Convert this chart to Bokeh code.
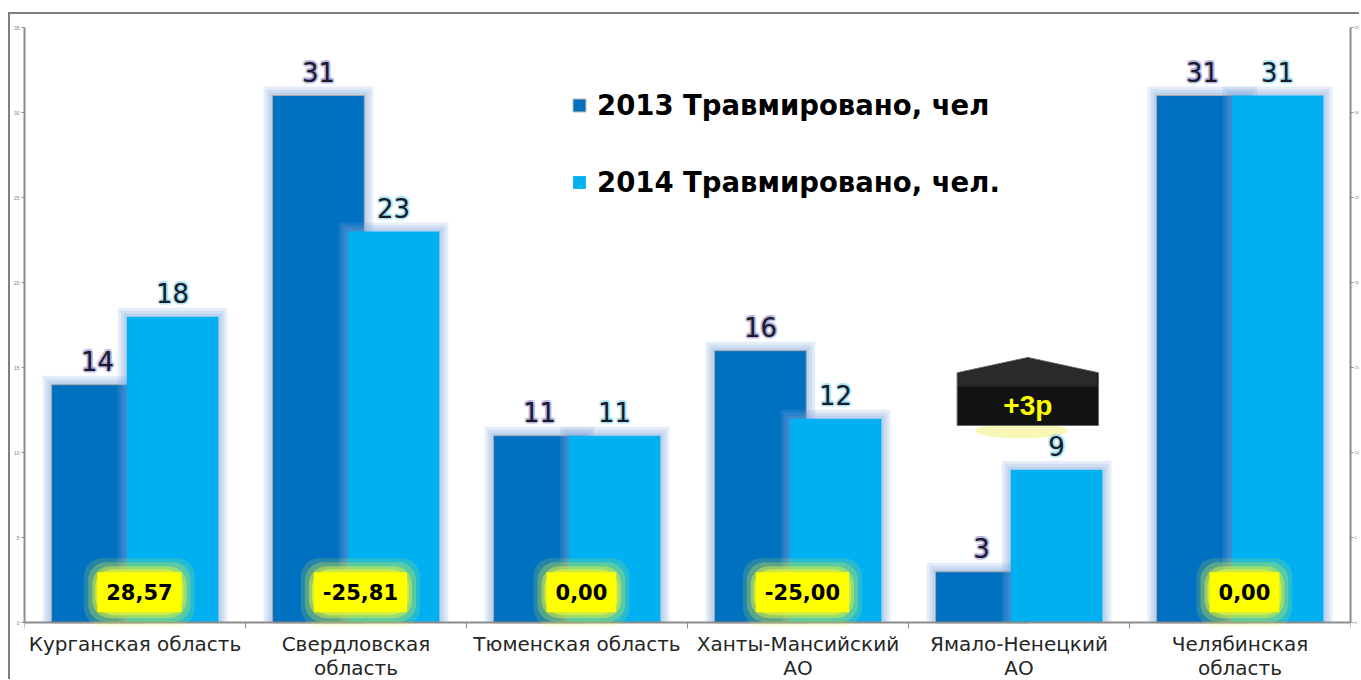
from bokeh.plotting import figure
from bokeh.models import (ColumnDataSource, Range1d, FixedTicker, LinearAxis,
                          LabelSet, Label, Legend, LegendItem)
from bokeh.core.properties import value
from bokeh.transform import dodge
from bokeh.embed import file_html
from bokeh.resources import INLINE

# ---------------- data ----------------
regions = ["Курганская область", "Свердловская\nобласть", "Тюменская область",
           "Ханты-Мансийский\nАО", "Ямало-Ненецкий\nАО", "Челябинская\nобласть"]
injured_2013 = [14, 31, 11, 16, 3, 31]
injured_2014 = [18, 23, 11, 12, 9, 31]
change_pct = [28.57, -25.81, 0.00, -25.00, None, 0.00]
yamal_note = "+3р"
series_names = ["2013 Травмировано, чел", "2014 Травмировано, чел."]
y_ticks = [0, 5, 10, 15, 20, 25, 30, 35]

C13 = "#0070C0"
C14 = "#00B0F0"
FONT = "DejaVu Sans"

xs = [i + 0.5 for i in range(len(regions))]
src = ColumnDataSource(dict(
    x=xs, v13=injured_2013, v14=injured_2014,
    t13=[str(v) for v in injured_2013], t14=[str(v) for v in injured_2014],
))
lines = [r.split("\n") + [""] for r in regions]
cat_src = ColumnDataSource(dict(x=xs, y=[0] * len(xs),
                                l1=[l[0] for l in lines], l2=[l[1] for l in lines]))

Y_LOW = -3.45
p = figure(width=1351, height=667, output_backend="svg", toolbar_location=None,
           x_range=Range1d(0, len(regions)), y_range=Range1d(Y_LOW, 35),
           min_border_left=14, min_border_top=13, min_border_right=4, min_border_bottom=0)
p.margin = (12, 0, 0, 8)
p.styles = {"border-top": "2px solid #7f7f7f", "border-left": "2px solid #7f7f7f"}
p.outline_line_color = None
p.xgrid.visible = False
p.ygrid.visible = False
p.background_fill_color = "white"

BW = 0.415
OFF = 0.17
PX_X = 1.0 / 221.7
PX_Y = 1.0 / 17.0

# soft glow layers behind bars
def glow(col, off):
    for px in [9, 6, 3]:
        srcg = ColumnDataSource(dict(x=xs, top=[v + px * PX_Y for v in src.data[col]]))
        p.vbar(x=dodge("x", off, range=p.x_range), top="top", bottom=0,
               width=BW + 2 * px * PX_X, source=srcg,
               fill_color="#7fa3dc", fill_alpha=0.2, line_color=None)

glow("v13", -OFF)
r13 = p.vbar(x=dodge("x", -OFF, range=p.x_range), top="v13", bottom=0, width=BW,
             source=src, fill_color=C13, line_color="#a6a6a6", line_width=1)
glow("v14", OFF)
r14 = p.vbar(x=dodge("x", OFF, range=p.x_range), top="v14", bottom=0, width=BW,
             source=src, fill_color=C14, line_color=None)

# value labels with halo
def value_labels(col, tcol, off, halo):
    for dx, dy in [(-2, 0), (2, 0), (0, -2), (0, 2), (-1.5, -1.5), (1.5, 1.5), (-1.5, 1.5), (1.5, -1.5)]:
        p.add_layout(LabelSet(x=dodge("x", off, range=p.x_range), y=col, text=tcol, source=src,
                              x_offset=dx, y_offset=14 + dy, text_align="center",
                              text_baseline="bottom", text_font=value(FONT), text_font_size="26px",
                              text_color=halo, text_alpha=0.4))
    p.add_layout(LabelSet(x=dodge("x", off, range=p.x_range), y=col, text=tcol, source=src,
                          y_offset=14, text_align="center", text_baseline="bottom",
                          text_font=value(FONT), text_font_size="26px", text_color="#1a1a28"))

value_labels("v13", "t13", -OFF, "#9d98d6")
value_labels("v14", "t14", OFF, "#8fdcef")

# percent-change boxes with yellow-green glow
for x, v in zip(xs, change_pct):
    if v is None:
        continue
    txt = f"{v:.2f}".replace(".", ",")
    for pad, a in [(22, 0.18), (18, 0.3), (14, 0.5), (11, 0.8)]:
        p.add_layout(Label(x=x + 0.02, y=1.8, text=txt, text_align="center", text_baseline="middle",
                           text_font=FONT, text_font_size="21px", text_font_style="bold",
                           text_color="#d4f040", text_alpha=a,
                           background_fill_color="#d4f040", background_fill_alpha=a,
                           padding=dict(left=pad, right=pad, top=pad + 4, bottom=pad + 4),
                           border_radius=18))
    p.add_layout(Label(x=x + 0.02, y=1.8, text=txt, text_align="center", text_baseline="middle",
                       text_font=FONT, text_font_size="21px", text_font_style="bold",
                       text_color="black", background_fill_color="#FFFF00",
                       padding=dict(left=9, right=9, top=12, bottom=12)))

# "+3р" house-shaped callout above Yamal
cx = xs[4] + 0.04
hw = 0.32
p.ellipse(x=[cx - 0.03], y=[11.3], width=0.42, height=0.9, fill_color="#f2f27a",
          fill_alpha=0.55, line_color=None)
p.patch(x=[cx - hw, cx - hw, cx, cx + hw, cx + hw],
        y=[11.6, 14.7, 15.6, 14.7, 11.6], fill_color="#121212", line_color="#6a6a6a", line_width=1)
p.patch(x=[cx - hw + 0.005, cx, cx + hw - 0.005, cx + hw - 0.005, cx - hw + 0.005],
        y=[14.68, 15.55, 14.68, 13.9, 13.9], fill_color="#3a3a3a", fill_alpha=0.6, line_color=None)
p.add_layout(Label(x=cx, y=12.75, text=yamal_note, text_align="center", text_baseline="middle",
                   text_font="Liberation Sans", text_font_size="28px", text_font_style="bold",
                   text_color="#FFFF00"))

# axes
def style_y(ax, size):
    ax.ticker = FixedTicker(ticks=y_ticks)
    ax.bounds = (0, 35)
    ax.major_label_text_font_size = size
    ax.major_label_text_color = "#7f7f7f"
    ax.axis_line_color = "#8c8c8c"
    ax.axis_line_width = 2
    ax.major_tick_line_color = "#8c8c8c"
    ax.major_tick_out = 3
    ax.major_tick_in = 0
    ax.minor_tick_line_color = None
    ax.major_label_standoff = 2

style_y(p.yaxis[0], "5px")
ry = LinearAxis()
style_y(ry, "4px")
ry.major_label_standoff = 1
p.add_layout(ry, "right")

xa = p.xaxis[0]
xa.ticker = FixedTicker(ticks=[], minor_ticks=list(range(len(regions) + 1)))
xa.fixed_location = 0
xa.major_tick_line_color = None
xa.major_tick_out = 0
xa.major_label_standoff = 0
xa.minor_tick_line_color = "#8c8c8c"
xa.minor_tick_out = 6
xa.minor_tick_in = 0
xa.axis_line_color = "#8c8c8c"
xa.axis_line_width = 2

# category labels under the axis (each line centred)
for col, off in [("l1", -9), ("l2", -33)]:
    p.add_layout(LabelSet(x="x", y="y", text=col, source=cat_src, y_offset=off,
                          text_align="center", text_baseline="top", text_font=value(FONT),
                          text_font_size="20px", text_color="#262626"))

legend = Legend(items=[LegendItem(label=series_names[0], renderers=[r13]),
                       LegendItem(label=series_names[1], renderers=[r14])],
                location=(547, 483), orientation="vertical",
                glyph_width=16, glyph_height=16, label_standoff=10,
                label_text_font=FONT, label_text_font_size="27.5px", label_text_font_style="bold",
                label_text_color="black", spacing=45, padding=0, margin=0,
                border_line_color=None, background_fill_alpha=0)
p.add_layout(legend)

open("out.html", "w").write(file_html(p, INLINE))
